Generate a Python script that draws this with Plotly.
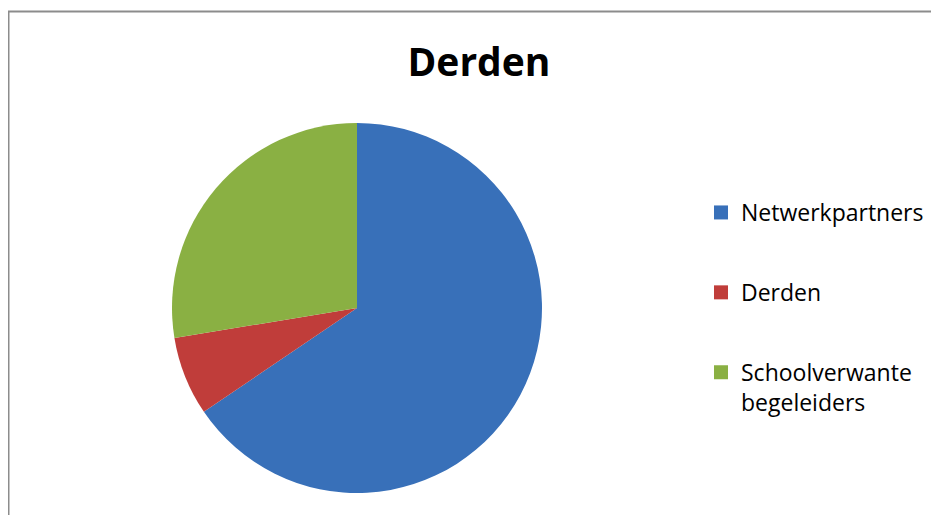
import plotly.graph_objects as go

categories = ["Netwerkpartners", "Derden", "Schoolverwante begeleiders"]
legend_labels = ["Netwerkpartners", "Derden", "Schoolverwante<br>begeleiders"]
values = [19, 2, 8]
colors = ["#3870b9", "#c03d3a", "#8ab043"]

# page body has an 8px margin; figure is sized so the page is 939x515
W, H = 931, 507
cx, cy, r = 349, 300, 185

fig = go.Figure()
fig.add_trace(go.Pie(
    labels=categories, values=values,
    marker=dict(colors=colors, line=dict(width=0)),
    sort=False, direction="clockwise", rotation=0,
    textinfo="none", hoverinfo="label+value+percent",
    showlegend=False,
    domain=dict(x=[(cx - r) / W, (cx + r) / W], y=[1 - (cy + r) / H, 1 - (cy - r) / H]),
))
for i, (lab, col) in enumerate(zip(legend_labels, colors)):
    fig.add_trace(go.Scatter(
        x=[None], y=[None], mode="markers", name=lab,
        marker=dict(symbol="square", size=14, color=col),
        legendgroup=f"g{i}", showlegend=True,
    ))

fig.update_layout(
    width=W, height=H,
    margin=dict(l=0, r=0, t=0, b=0),
    paper_bgcolor="white", plot_bgcolor="white",
    xaxis=dict(visible=False), yaxis=dict(visible=False),
    font=dict(family="Open Sans", color="black"),
    title=dict(text="<b>Derden</b>", x=471 / W, xanchor="center", y=1 - 54 / H, yanchor="middle",
               font=dict(size=39, family="Open Sans", color="black")),
    legend=dict(x=693 / W, xanchor="left", y=1 - 183 / H, yanchor="top",
                font=dict(size=23, family="Open Sans", color="black"),
                tracegroupgap=47, valign="top", bgcolor="rgba(0,0,0,0)"),
    shapes=[
        dict(type="line", xref="paper", yref="paper", x0=0, x1=1, y0=1 - 3.5 / H, y1=1 - 3.5 / H,
             line=dict(color="#8c8c8c", width=2)),
        dict(type="line", xref="paper", yref="paper", x0=0.5 / W, x1=0.5 / W, y0=0, y1=1 - 3.5 / H,
             line=dict(color="#8c8c8c", width=2)),
    ],
)

fig.write_html("out.html")
